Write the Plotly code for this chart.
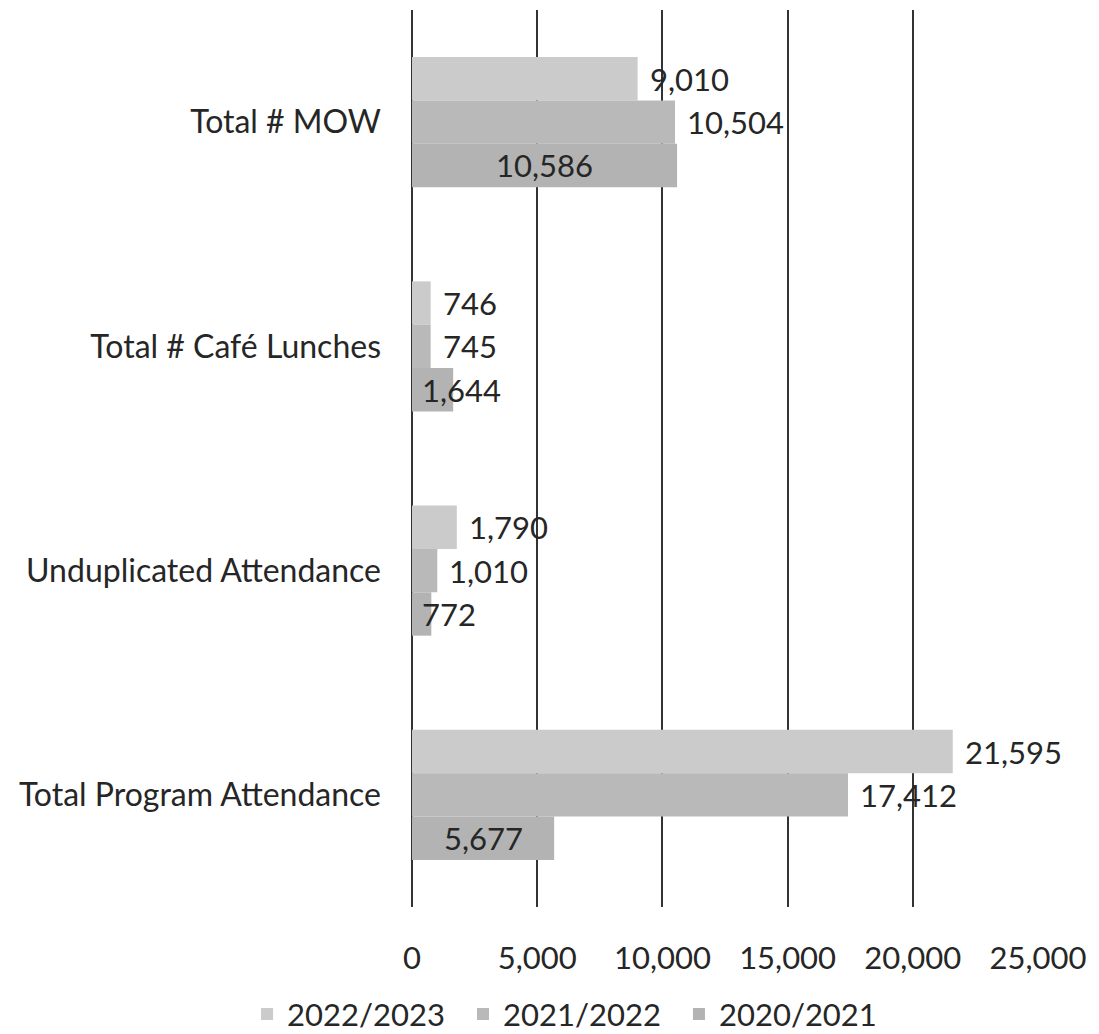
import plotly.graph_objects as go

# Program statistics by fiscal year
categories = ["Total # MOW", "Total # Café Lunches", "Unduplicated Attendance", "Total Program Attendance"]
years = ["2022/2023", "2021/2022", "2020/2021"]
values_2022_2023 = [9010, 746, 1790, 21595]
values_2021_2022 = [10504, 745, 1010, 17412]
values_2020_2021 = [10586, 1644, 772, 5677]
x_ticks = [0, 5000, 10000, 15000, 20000, 25000]

series = [values_2022_2023, values_2021_2022, values_2020_2021]
colors = ["#cbcbcb", "#b9b9b9", "#b3b3b3"]
legend_ids = ["legend", "legend2", "legend3"]
legend_x = [0.2248, 0.4213, 0.6178]

FONT = "Lato"
TEXT = "#262626"
SIZE = 31

fig = go.Figure()
for name, vals, col, lg in zip(years, series, colors, legend_ids):
    fig.add_trace(go.Bar(
        y=categories, x=vals, name=name, orientation="h", legend=lg, showlegend=True,
        marker=dict(color=col, line=dict(width=0)),
    ))

# value labels: the two newer years sit past the bar end, the oldest sits on the bar
annotations = []
n = len(series)
for si, vals in enumerate(series):
    for ci, v in enumerate(vals):
        yoff = (si - (n - 1) / 2) * 0.193
        label = f"{v:,}"
        if si < 2:
            annotations.append(dict(x=v, y=ci + yoff, text=label, xanchor="left", xshift=10,
                                    showarrow=False, font=dict(family=FONT, size=SIZE, color=TEXT)))
        else:
            wide = v > 3000
            annotations.append(dict(x=v / 2 if wide else 0, y=ci + yoff, text=label,
                                    xanchor="center" if wide else "left", xshift=0 if wide else 8,
                                    showarrow=False, font=dict(family=FONT, size=SIZE, color=TEXT)))

legend_style = dict(orientation="h", xref="container", xanchor="left",
                    yref="container", y=0.045, yanchor="top",
                    font=dict(family=FONT, size=SIZE, color=TEXT), bgcolor="rgba(0,0,0,0)")

fig.update_layout(
    width=1099, height=1034,
    margin=dict(l=412, r=61, t=10, b=127, autoexpand=False),
    paper_bgcolor="white", plot_bgcolor="white",
    showlegend=True,
    barmode="group", bargap=0.42, bargroupgap=0,
    font=dict(family=FONT, size=SIZE, color=TEXT),
    annotations=annotations,
    legend=dict(x=legend_x[0], **legend_style),
    legend2=dict(x=legend_x[1], **legend_style),
    legend3=dict(x=legend_x[2], **legend_style),
    xaxis=dict(range=[0, 25000], tickvals=x_ticks, ticktext=[f"{t:,}" for t in x_ticks],
               showgrid=True, gridcolor="#333333", gridwidth=1.6,
               zeroline=True, zerolinecolor="#333333", zerolinewidth=1.6,
               showline=False, ticks="", ticklabelstandoff=30, automargin=False),
    yaxis=dict(autorange="reversed", showgrid=False, showline=False, ticks="",
               ticklabelstandoff=30, automargin=False, tickfont=dict(size=32)),
)

fig.write_html("out.html")
